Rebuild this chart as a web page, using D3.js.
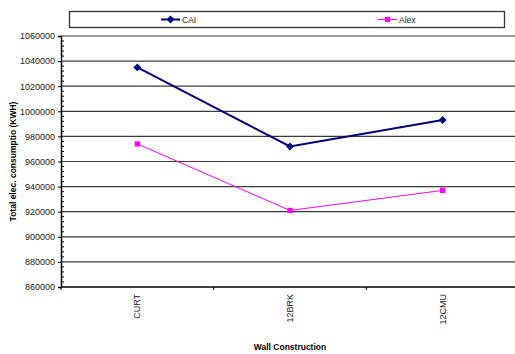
<!DOCTYPE html>
<html>
<head>
<meta charset="utf-8">
<script src="https://cdnjs.cloudflare.com/ajax/libs/d3/7.8.5/d3.min.js"></script>
<style>
  html, body { margin: 0; padding: 0; background: #fff; }
  svg { display: block; font-family: "Liberation Sans", Arial, sans-serif; }
</style>
</head>
<body>
<svg id="chart" width="515" height="354"></svg>
<script>
// Wall construction options and annual electricity use for each model
const categories = ["CURT", "12BRK", "12CMU"];
const caiValues = [1035000, 972000, 993000];
const alexValues = [974000, 921000, 937000];
const yTicks = [860000, 880000, 900000, 920000, 940000, 960000, 980000, 1000000, 1020000, 1040000, 1060000];
const seriesNames = ["CAI", "Alex"];

const svg = d3.select("#chart");
const plotLeft = 61, plotRight = 519, plotTop = 36, plotBottom = 287;

const x = d3.scalePoint().domain(categories).range([plotLeft, plotRight]).padding(0.5);
const y = d3.scaleLinear().domain([860000, 1060000]).range([plotBottom, plotTop]);

// Horizontal gridlines
svg.append("g").selectAll("line").data(yTicks.slice(1)).join("line")
  .attr("x1", plotLeft).attr("x2", plotRight)
  .attr("y1", d => y(d)).attr("y2", d => y(d))
  .attr("stroke", "#3a3a3a").attr("stroke-width", 1.2);

// Minor ticks on the value axis
const minor = d3.range(860000, 1060001, 4000).filter(v => v % 20000 !== 0);
svg.append("g").selectAll("line").data(minor).join("line")
  .attr("x1", plotLeft).attr("x2", plotLeft + 3)
  .attr("y1", d => y(d)).attr("y2", d => y(d))
  .attr("stroke", "#000").attr("stroke-width", 1);

// Value axis
const yAxis = svg.append("g").attr("transform", `translate(${plotLeft},0)`)
  .call(d3.axisLeft(y).tickValues(yTicks).tickSize(3).tickPadding(3).tickFormat(d3.format("d")));
yAxis.select(".domain").attr("stroke", "#000").attr("stroke-width", 1.5);
yAxis.selectAll("text").attr("font-size", 9).attr("fill", "#222")
  .attr("font-family", "Liberation Sans, Arial, sans-serif");

// Category axis: ticks between categories
const step = x.step();
const catTicks = [0, 1, 2, 3].map(i => plotLeft + i * step);
svg.append("line").attr("x1", plotLeft).attr("x2", plotRight).attr("y1", plotBottom).attr("y2", plotBottom)
  .attr("stroke", "#000").attr("stroke-width", 1.5);
svg.append("g").selectAll("line").data(catTicks).join("line")
  .attr("x1", d => d).attr("x2", d => d).attr("y1", plotBottom).attr("y2", plotBottom + 3)
  .attr("stroke", "#000");
svg.append("g").selectAll("text").data(categories).join("text")
  .attr("transform", d => `translate(${x(d) + 3},${plotBottom + 7}) rotate(-90)`)
  .attr("text-anchor", "end").attr("font-size", 9).attr("fill", "#222")
  .text(d => d);

// Axis titles
svg.append("text").attr("x", 290).attr("y", 350).attr("text-anchor", "middle")
  .attr("font-size", 8.5).attr("font-weight", "bold").text("Wall Construction");
svg.append("text").attr("transform", `translate(16,${(plotTop + plotBottom) / 2}) rotate(-90)`)
  .attr("text-anchor", "middle").attr("font-size", 8.5).attr("font-weight", "bold")
  .text("Total elec. consumptio (KWH)");

// Series lines and markers
const line = d3.line().x((d, i) => x(categories[i])).y(d => y(d));
svg.append("path").datum(alexValues).attr("d", line)
  .attr("fill", "none").attr("stroke", "#ff00ff").attr("stroke-width", 1);
svg.append("path").datum(caiValues).attr("d", line)
  .attr("fill", "none").attr("stroke", "#000080").attr("stroke-width", 2);

const diamond = d3.symbol().type(d3.symbolDiamond2).size(40);
const square = d3.symbol().type(d3.symbolSquare).size(28);
svg.append("g").selectAll("path").data(caiValues).join("path")
  .attr("transform", (d, i) => `translate(${x(categories[i])},${y(d)})`)
  .attr("d", diamond).attr("fill", "#000080");
svg.append("g").selectAll("path").data(alexValues).join("path")
  .attr("transform", (d, i) => `translate(${x(categories[i])},${y(d)})`)
  .attr("d", square).attr("fill", "#ff00ff");

// Legend
const lg = svg.append("g");
lg.append("rect").attr("x", 69.5).attr("y", 11.5).attr("width", 435).attr("height", 16)
  .attr("fill", "#fff").attr("stroke", "#333").attr("stroke-width", 1.3);
const legendItems = [
  { name: seriesNames[0], x0: 161, color: "#000080", w: 2, sym: diamond },
  { name: seriesNames[1], x0: 378, color: "#ff00ff", w: 1, sym: square }
];
legendItems.forEach(it => {
  lg.append("line").attr("x1", it.x0).attr("x2", it.x0 + 19).attr("y1", 19.5).attr("y2", 19.5)
    .attr("stroke", it.color).attr("stroke-width", it.w);
  lg.append("path").attr("transform", `translate(${it.x0 + 9.5},19.5)`).attr("d", it.sym).attr("fill", it.color);
  lg.append("text").attr("x", it.x0 + 21).attr("y", 22.5).attr("font-size", 8.5).attr("fill", "#222").text(it.name);
});
</script>
</body>
</html>
